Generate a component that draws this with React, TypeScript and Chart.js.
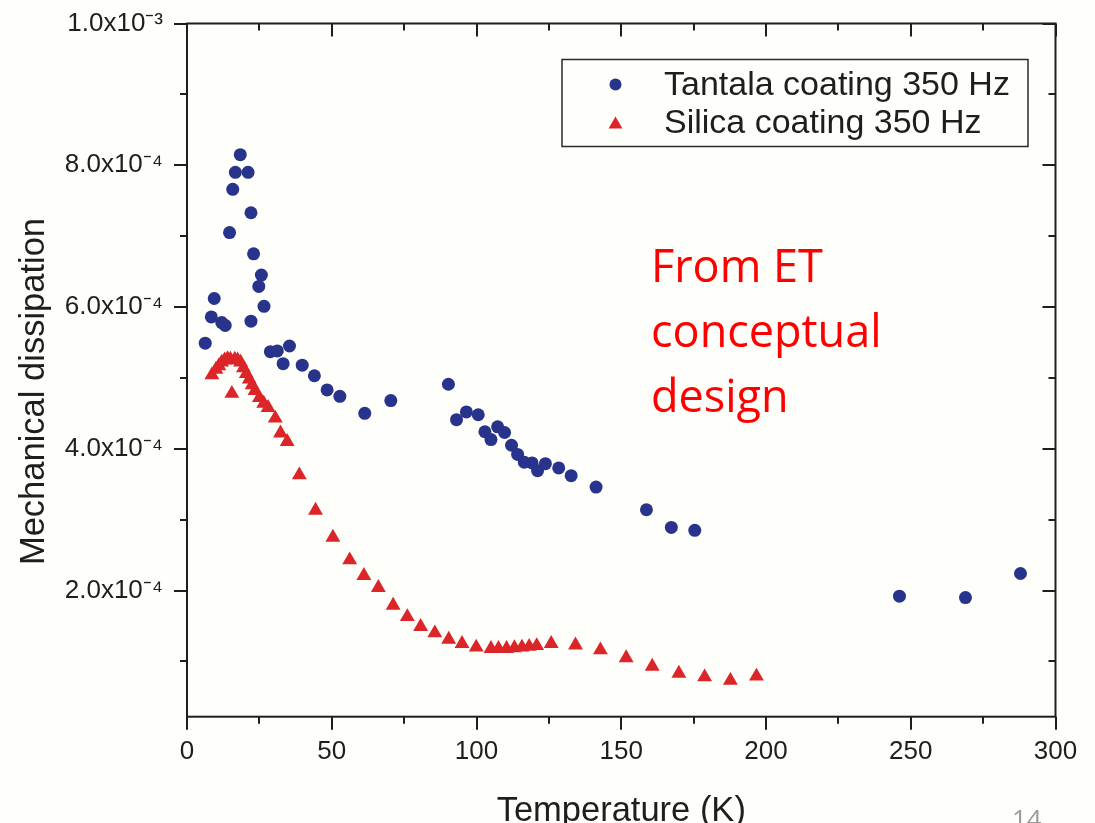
import React, { useEffect, useRef } from "react";
import { Chart, registerables } from "chart.js";

Chart.register(...registerables);

// ---------------- data ----------------
const tantalaT = [
  6.3, 8.4, 9.4, 12.0, 13.2, 14.7, 15.8, 16.7, 18.4, 21.1, 22.1, 22.1, 23.0, 24.8, 25.7, 26.6,
  28.8, 31.2, 33.2, 35.4, 39.8, 44.0, 48.4, 52.8, 61.4, 70.4, 90.3, 93.1, 96.5, 100.6, 102.9,
  105.0, 107.3, 109.7, 112.1, 114.2, 116.5, 119.2, 121.1, 123.8, 128.4, 132.7, 141.3, 158.7,
  167.3, 175.4, 246.1, 268.9, 287.9,
];
const tantalaD = [
  5.49e-4, 5.86e-4, 6.12e-4, 5.78e-4, 5.74e-4, 7.05e-4, 7.66e-4, 7.9e-4, 8.15e-4, 7.9e-4, 7.33e-4,
  5.8e-4, 6.75e-4, 6.29e-4, 6.45e-4, 6.01e-4, 5.37e-4, 5.38e-4, 5.2e-4, 5.45e-4, 5.18e-4, 5.03e-4,
  4.83e-4, 4.74e-4, 4.5e-4, 4.68e-4, 4.91e-4, 4.41e-4, 4.52e-4, 4.48e-4, 4.24e-4, 4.13e-4, 4.31e-4,
  4.23e-4, 4.05e-4, 3.92e-4, 3.81e-4, 3.8e-4, 3.69e-4, 3.79e-4, 3.73e-4, 3.62e-4, 3.46e-4, 3.14e-4,
  2.89e-4, 2.85e-4, 1.92e-4, 1.9e-4, 2.24e-4,
];

const silicaT = [
  8.6, 10.0, 11.0, 12.0, 13.0, 14.0, 15.0, 15.5, 16.5, 17.5, 18.5, 19.5, 20.5, 21.5, 22.5, 23.5,
  25.0, 26.5, 28.0, 30.5, 32.3, 34.6, 38.8, 44.4, 50.4, 56.2, 61.1, 66.1, 71.2, 76.1, 80.7, 85.6,
  90.4, 95.0, 99.9, 105.0, 107.6, 110.4, 113.1, 115.7, 118.2, 120.8, 125.8, 134.2, 142.8, 151.7,
  160.7, 169.9, 178.8, 187.7, 196.7,
];
const silicaD = [
  5.04e-4, 5.12e-4, 5.17e-4, 5.22e-4, 5.25e-4, 5.27e-4, 5.26e-4, 4.78e-4, 5.26e-4, 5.25e-4, 5.22e-4,
  5.14e-4, 5.06e-4, 4.98e-4, 4.9e-4, 4.82e-4, 4.72e-4, 4.64e-4, 4.58e-4, 4.43e-4, 4.22e-4, 4.1e-4,
  3.63e-4, 3.13e-4, 2.75e-4, 2.43e-4, 2.21e-4, 2.04e-4, 1.79e-4, 1.63e-4, 1.49e-4, 1.4e-4, 1.31e-4,
  1.25e-4, 1.2e-4, 1.18e-4, 1.18e-4, 1.18e-4, 1.19e-4, 1.2e-4, 1.21e-4, 1.22e-4, 1.25e-4, 1.23e-4,
  1.16e-4, 1.05e-4, 0.93e-4, 0.83e-4, 0.78e-4, 0.73e-4, 0.79e-4,
];

const seriesLabels = ["Tantala coating 350 Hz", "Silica coating 350 Hz"];
const xTitle = "Temperature (K)";
const yTitle = "Mechanical dissipation";
const noteLines = ["From ET", "conceptual", "design"];
const pageNumber = "14";

const xMin = 0;
const xMax = 300;
const xMajorStep = 50;
const xMinorStep = 25;
const yMin = 2.2e-5;
const yMax = 1e-3;
const yMajorStep = 2e-4;
const yMinorStep = 1e-4;

// ---------------- styles ----------------
const BLUE = "#28348c";
const RED = "#dc2528";
const INK = "#1e1e1e";
const BG = "#fefefb";
const SANS = "'Liberation Sans', Arial, sans-serif";

const SUP: Record<string, string> = { "-": "\u207B", "0": "\u2070", "1": "\u00B9", "2": "\u00B2", "3": "\u00B3", "4": "\u2074", "5": "\u2075", "6": "\u2076", "7": "\u2077", "8": "\u2078", "9": "\u2079" };
function sup(s: string) {
  return s.split("").map((c) => SUP[c] || c).join("");
}
function sciLabel(v: number) {
  if (v <= 0) return "0";
  const e = Math.floor(Math.log10(v) + 1e-9);
  const m = v / Math.pow(10, e);
  return m.toFixed(1) + "x10" + sup(String(e));
}

function drawMarker(ctx: CanvasRenderingContext2D, style: string, x: number, y: number, r: number, color: string) {
  ctx.fillStyle = color;
  ctx.beginPath();
  if (style === "triangle") {
    ctx.moveTo(x, y - r);
    ctx.lineTo(x + r * Math.sin((2 * Math.PI) / 3), y - r * Math.cos((2 * Math.PI) / 3));
    ctx.lineTo(x + r * Math.sin((4 * Math.PI) / 3), y - r * Math.cos((4 * Math.PI) / 3));
    ctx.closePath();
  } else {
    ctx.arc(x, y, r, 0, Math.PI * 2);
  }
  ctx.fill();
}

const decorPlugin = {
  id: "decor",
  afterDraw(chart: any) {
    const { ctx, chartArea: a, scales } = chart;
    const xs = scales.x;
    const ys = scales.y;
    ctx.save();
    // frame
    ctx.strokeStyle = INK;
    ctx.lineWidth = 2;
    ctx.strokeRect(a.left, a.top, a.right - a.left, a.bottom - a.top);
    // x ticks (bottom outward, top inward)
    ctx.beginPath();
    for (let k = 0; k * xMinorStep <= xMax + 1e-9; k++) {
      const v = xMin + k * xMinorStep;
      const px = Math.round(xs.getPixelForValue(v));
      const len = v % xMajorStep === 0 ? 13 : 7;
      ctx.moveTo(px, a.bottom);
      ctx.lineTo(px, a.bottom + len);
      ctx.moveTo(px, a.top);
      ctx.lineTo(px, a.top + len);
    }
    // y ticks (left outward, right inward)
    for (let k = 1; k * yMinorStep <= yMax + 1e-12; k++) {
      const v = k * yMinorStep;
      const py = Math.round(ys.getPixelForValue(v));
      const len = k % Math.round(yMajorStep / yMinorStep) === 0 ? 13 : 7;
      ctx.moveTo(a.left - len, py);
      ctx.lineTo(a.left, py);
      ctx.moveTo(a.right - len, py);
      ctx.lineTo(a.right, py);
    }
    ctx.stroke();

    // axis titles
    ctx.fillStyle = INK;
    ctx.font = `34.5px ${SANS}`;
    ctx.textAlign = "center";
    ctx.textBaseline = "alphabetic";
    ctx.fillText(xTitle, (a.left + a.right) / 2, 821);
    ctx.save();
    ctx.translate(44, 391.5);
    ctx.rotate(-Math.PI / 2);
    ctx.fillText(yTitle, 0, 0);
    ctx.restore();

    // legend
    const ds = chart.data.datasets;
    ctx.lineWidth = 1.5;
    ctx.strokeStyle = "#2a2a2a";
    ctx.strokeRect(562, 59.5, 466, 87);
    const rowsY = [84.5, 123];
    ctx.font = `34px ${SANS}`;
    ctx.textAlign = "left";
    ctx.textBaseline = "middle";
    ds.forEach((d: any, i: number) => {
      drawMarker(ctx, d.pointStyle, 615.5, rowsY[i] + (d.pointStyle === "triangle" ? 1.5 : 0), d.pointStyle === "triangle" ? 8 : 6, d.backgroundColor);
      ctx.fillStyle = INK;
      ctx.fillText(d.label, 664, rowsY[i] + 1);
    });

    // red note
    ctx.fillStyle = "#ff0000";
    ctx.font = `45px 'Open Sans', 'Liberation Sans', sans-serif`;
    ctx.textBaseline = "alphabetic";
    noteLines.forEach((t, i) => ctx.fillText(t, 651, 282 + i * 65));

    // page number
    ctx.fillStyle = "#9a9a9a";
    ctx.font = `26px 'Open Sans', sans-serif`;
    ctx.fillText(pageNumber, 1012, 828);
    ctx.restore();
  },
};

export default function App() {
  const ref = useRef<HTMLCanvasElement | null>(null);
  useEffect(() => {
    if (!ref.current) return;
    const chart = new Chart(ref.current, {
      type: "scatter",
      data: {
        datasets: [
          {
            label: seriesLabels[0],
            data: tantalaT.map((t, i) => ({ x: t, y: tantalaD[i] })),
            pointStyle: "circle",
            pointRadius: 6.5,
            backgroundColor: BLUE,
            borderColor: BLUE,
            pointBorderWidth: 0,
          },
          {
            label: seriesLabels[1],
            data: silicaT.map((t, i) => ({ x: t, y: silicaD[i] })),
            pointStyle: "triangle",
            pointRadius: 8.6,
            backgroundColor: RED,
            borderColor: RED,
            pointBorderWidth: 0,
          },
        ],
      },
      options: {
        animation: false,
        responsive: false,
        devicePixelRatio: 1,
        layout: { padding: { top: 23.5, right: 39.5, left: 0, bottom: 0 } },
        plugins: { legend: { display: false }, tooltip: { enabled: false } },
        scales: {
          x: {
            type: "linear",
            min: xMin,
            max: xMax,
            grid: { display: false, drawTicks: false },
            border: { display: false },
            ticks: {
              stepSize: xMajorStep,
              padding: 20,
              color: INK,
              font: { family: SANS, size: 26, lineHeight: 1.2 },
              maxRotation: 0,
              autoSkip: false,
            },
            afterFit: (s: any) => {
              s.height = 106.3;
              s.paddingLeft = 0;
              s.paddingRight = 0;
            },
          },
          y: {
            type: "linear",
            min: yMin,
            max: yMax,
            grid: { display: false, drawTicks: false },
            border: { display: false },
            ticks: {
              stepSize: yMajorStep,
              includeBounds: false,
              padding: 24,
              color: INK,
              font: { family: SANS, size: 26, lineHeight: 1.2 },
              callback: (v: any) => sciLabel(Number(v)),
            },
            afterFit: (s: any) => {
              s.width = 187;
              s.paddingTop = 0;
              s.paddingBottom = 0;
            },
          },
        },
      },
      plugins: [decorPlugin],
    } as any);
    return () => chart.destroy();
  }, []);
  return (
    <div style={{ position: "fixed", left: 0, top: 0, width: 1095, height: 823, background: BG, overflow: "hidden" }}>
      <canvas ref={ref} width={1095} height={823} style={{ display: "block" }} />
    </div>
  );
}
